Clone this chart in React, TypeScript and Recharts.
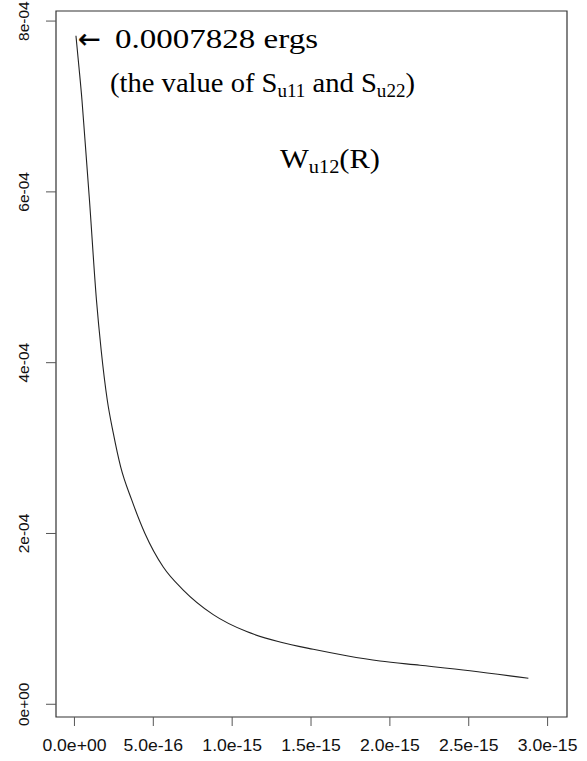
import { LineChart, Line, XAxis, YAxis, ReferenceArea } from 'recharts';

// R (separation) and W_u12(R)
const rValues = [
  0.0095e-15, 0.0285e-15, 0.0476e-15, 0.0634e-15, 0.0951e-15, 0.1395e-15, 0.1693e-15, 0.208e-15,
  0.246e-15, 0.293e-15, 0.363e-15, 0.447e-15, 0.563e-15, 0.69e-15, 0.88e-15,
  1.092e-15, 1.303e-15, 1.514e-15, 1.726e-15, 1.937e-15, 2.191e-15, 2.508e-15, 2.878e-15,
];
const wValues = [
  7.828e-4, 7.463e-4, 7.076e-4, 6.69e-4, 5.905e-4, 4.734e-4, 4.149e-4, 3.563e-4,
  3.177e-4, 2.779e-4, 2.393e-4, 2.0e-4, 1.607e-4, 1.338e-4, 1.05e-4,
  0.851e-4, 0.73e-4, 0.644e-4, 0.569e-4, 0.507e-4, 0.457e-4, 0.393e-4, 0.304e-4,
];
const xTicks = [0, 5e-16, 1e-15, 1.5e-15, 2e-15, 2.5e-15, 3e-15];
const yTicks = [0, 2e-4, 4e-4, 6e-4, 8e-4];

const xDomain = [-0.117e-15, 3.123e-15];
const yDomain = [-0.149e-4, 8.118e-4];

const data = rValues.map((r, i) => ({ r, w: wValues[i] }));

// R style scientific labels: 5.0e-16, 0e+00
function sci(v: number, digits: number) {
  if (v === 0) return (0).toFixed(digits) + 'e+00';
  const [m, e] = v.toExponential(digits).split('e');
  const n = parseInt(e, 10);
  const sign = n < 0 ? '-' : '+';
  return m + 'e' + sign + String(Math.abs(n)).padStart(2, '0');
}

const sans = "'Liberation Sans', Arial, sans-serif";
const serif = "'Liberation Serif', 'Times New Roman', serif";

function XTick({ x, y, payload }: any) {
  return (
    <text
      transform={`translate(${x},${y + 25}) scale(1.1,1)`}
      textAnchor="middle"
      fontSize={16}
      fontFamily={sans}
      fill="#111"
    >
      {sci(payload.value, 1)}
    </text>
  );
}

function YTick({ x, y, payload }: any) {
  const cx = x - 22;
  return (
    <text
      x={cx}
      y={y}
      transform={`rotate(-90, ${cx}, ${y})`}
      textAnchor="middle"
      dominantBaseline="central"
      fontSize={15.5}
      fontFamily={sans}
      fill="#111"
    >
      {sci(payload.value, 0)}
    </text>
  );
}

export default function App() {
  return (
    <div style={{ position: 'absolute', left: 0, top: 0, width: 587, height: 761, background: '#fff' }}>
      <LineChart width={587} height={761} data={data} margin={{ top: 11, right: 20, bottom: 0, left: 0 }}>
        <XAxis
          dataKey="r"
          type="number"
          domain={xDomain}
          ticks={xTicks}
          allowDataOverflow
          height={44}
          axisLine={false}
          tickSize={9}
          tickMargin={0}
          tickLine={{ stroke: '#555' }}
          tick={<XTick />}
        />
        <YAxis
          dataKey="w"
          type="number"
          domain={yDomain}
          ticks={yTicks}
          allowDataOverflow
          width={56}
          axisLine={false}
          tickSize={10}
          tickMargin={0}
          tickLine={{ stroke: '#555' }}
          tick={<YTick />}
        />
        <ReferenceArea
          x1={xDomain[0]}
          x2={xDomain[1]}
          y1={yDomain[0]}
          y2={yDomain[1]}
          fill="none"
          stroke="#333"
          strokeWidth={1.2}
          ifOverflow="visible"
        />
        <Line
          type="monotone"
          dataKey="w"
          stroke="#222"
          strokeWidth={1.1}
          dot={false}
          isAnimationActive={false}
        />
      </LineChart>
      <svg width={587} height={761} style={{ position: 'absolute', left: 0, top: 0, pointerEvents: 'none' }}>
        <g fontFamily={serif} fontSize={27} fill="#000">
          <text x={78} y={48} fontFamily="'DejaVu Sans', sans-serif" fontSize={27} stroke="#000" strokeWidth={0.4}>
            ←
          </text>
          <text x={115} y={48} textLength={203} lengthAdjust="spacingAndGlyphs">
            0.0007828 ergs
          </text>
          <text x={110} y={92} textLength={305} lengthAdjust="spacingAndGlyphs">
            (the value of S
            <tspan fontSize={18} dy={5}>u11</tspan>
            <tspan dy={-5}> and S</tspan>
            <tspan fontSize={18} dy={5}>u22</tspan>
            <tspan dy={-5}>)</tspan>
          </text>
          <text x={280} y={168} textLength={100} lengthAdjust="spacingAndGlyphs">
            W
            <tspan fontSize={18} dy={5}>u12</tspan>
            <tspan dy={-5}>(R)</tspan>
          </text>
        </g>
      </svg>
    </div>
  );
}
